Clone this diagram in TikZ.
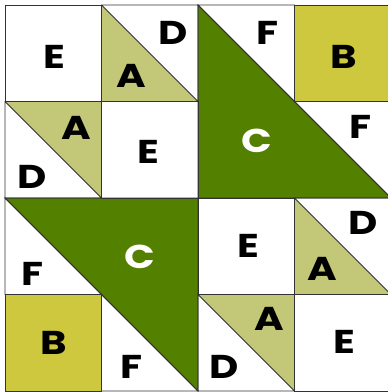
\documentclass[tikz,border=0pt]{standalone}
\usepackage{fontspec}
\setmainfont{Poppins}[FakeStretch=1.22]
\definecolor{cdark}{HTML}{548000}
\definecolor{alight}{HTML}{C3C778}
\definecolor{bgold}{HTML}{CDC83E}
\begin{document}
\begin{tikzpicture}[x=1pt,y=-1pt,line join=miter,
  seam/.style={draw=black!80,line width=0.8pt},
  lbl/.style={font=\fontsize{33}{33}\selectfont\bfseries,inner sep=0pt,text=black},
  lblw/.style={lbl,text=white}]
\useasboundingbox (0,0) rectangle (388,392);
\fill[white] (0,0) rectangle (388,392);
% fills
\fill[alight] (101.5,5) -- (101.5,101.5) -- (198,101.5) -- cycle;
\fill[bgold] (294.5,5) rectangle (391,101.5);
\fill[cdark] (198,5) -- (198,198) -- (391,198) -- cycle;
\fill[alight] (5,101.5) -- (101.5,101.5) -- (101.5,198) -- cycle;
\fill[cdark] (5,198) -- (198,198) -- (198,391) -- cycle;
\fill[bgold] (5,294.5) rectangle (101.5,391);
\fill[alight] (294.5,198) -- (294.5,294.5) -- (391,294.5) -- cycle;
\fill[alight] (198,294.5) -- (294.5,294.5) -- (294.5,391) -- cycle;
% seams
\path[seam] (5,5) rectangle (101.5,101.5);
\path[seam] (101.5,5) rectangle (198,101.5) (101.5,5) -- (198,101.5);
\path[seam] (198,5) -- (294.5,5) -- (294.5,101.5) -- cycle;
\path[seam] (294.5,5) rectangle (391,101.5);
\path[seam] (198,5) -- (198,198) -- (391,198) -- cycle;
\path[seam] (294.5,101.5) -- (391,101.5) -- (391,198) -- cycle;
\path[seam] (5,101.5) rectangle (101.5,198) (5,101.5) -- (101.5,198);
\path[seam] (101.5,101.5) rectangle (198,198);
\path[seam] (5,198) -- (198,198) -- (198,391) -- cycle;
\path[seam] (5,198) -- (5,294.5) -- (101.5,294.5) -- cycle;
\path[seam] (5,294.5) rectangle (101.5,391);
\path[seam] (101.5,294.5) -- (198,391) -- (101.5,391) -- cycle;
\path[seam] (198,198) rectangle (294.5,294.5);
\path[seam] (294.5,198) rectangle (391,294.5) (294.5,198) -- (391,294.5);
\path[seam] (198,294.5) rectangle (294.5,391) (198,294.5) -- (294.5,391);
\path[seam] (294.5,294.5) rectangle (391,391);
% labels
\node[lbl] (e1) at (54.5,56.5) {E};
\node[lbl] (d1) at (173.5,32.5) {D};
\node[lbl] (a1) at (131.7,76) {A};
\node[lbl] (f1) at (268,32.5) {F};
\node[lbl] (b1) at (344,57) {B};
\node[lblw] (c1) at (257,141) {C};
\node[lbl] (f2) at (361,127) {F};
\node[lbl] (a2) at (76,127.5) {A};
\node[lbl] (d2) at (32.5,177) {D};
\node[lbl] (e2) at (148,152) {E};
\node[lblw] (c2) at (140,257) {C};
\node[lbl] (f3) at (33,273.7) {F};
\node[lbl] (b2) at (54,343) {B};
\node[lbl] (f4) at (131.7,367) {F};
\node[lbl] (e3) at (248,246) {E};
\node[lbl] (a3) at (322,269) {A};
\node[lbl] (d3) at (363,223) {D};
\node[lbl] (a4) at (269.5,318.7) {A};
\node[lbl] (d4) at (224,366.7) {D};
\node[lbl] (e4) at (344.5,342) {E};
\end{tikzpicture}
\end{document}
